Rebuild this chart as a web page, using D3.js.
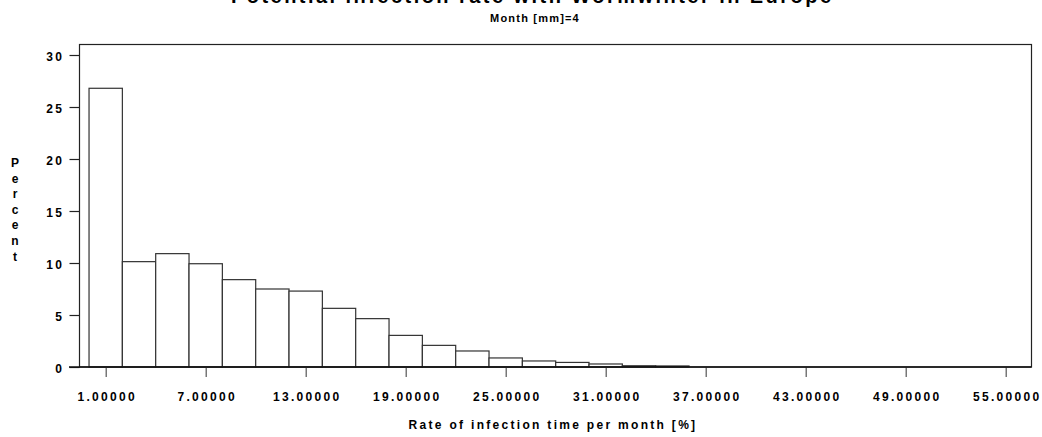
<!DOCTYPE html>
<html>
<head>
<meta charset="utf-8">
<script src="https://cdn.jsdelivr.net/npm/d3@7"></script>
<style>
  html, body { margin: 0; padding: 0; background: #fff; }
  svg { display: block; }
  .lbl { font-family: "Liberation Sans", Arial, sans-serif; font-weight: bold; font-size: 12px; fill: #000; }
</style>
</head>
<body>
<svg id="chart" width="1042" height="437"></svg>
<script>
const titleText = "Potential infection rate with Wormwinter in Europe";
const subtitleText = "Month [mm]=4";
const xLabel = "Rate of infection time per month [%]";
const yLabel = "Percent";
const binMidpoints = [1, 3, 5, 7, 9, 11, 13, 15, 17, 19, 21, 23, 25, 27, 29, 31, 33, 35];
const percentValues = [26.8, 10.13, 10.9, 9.93, 8.4, 7.5, 7.3, 5.64, 4.65, 3.04, 2.08, 1.54, 0.87, 0.58, 0.44, 0.29, 0.12, 0.1];
const binWidth = 2;
const xTickValues = [1, 7, 13, 19, 25, 31, 37, 43, 49, 55];
const xTickLabels = ["1.00000", "7.00000", "13.00000", "19.00000", "25.00000", "31.00000", "37.00000", "43.00000", "49.00000", "55.00000"];
const yTickValues = [0, 5, 10, 15, 20, 25, 30];

const svg = d3.select("#chart");
const frame = { left: 79.5, right: 1031.5, top: 44.5, bottom: 367 };

const x = d3.scaleLinear().domain([1, 55]).range([105.7, 1005.7]);
const y = d3.scaleLinear().domain([0, 30]).range([367, 55]);

// Title (partially clipped at top, as in the reference)
svg.append("text")
  .attr("x", 531).attr("y", 3)
  .attr("text-anchor", "middle")
  .attr("textLength", 600)
  .style("font-family", "'Liberation Sans', Arial, sans-serif")
  .style("font-weight", "bold")
  .style("font-size", "20px")
  .style("fill", "#000")
  .text(titleText);

svg.append("text")
  .attr("class", "lbl")
  .attr("x", 535).attr("y", 22)
  .attr("text-anchor", "middle")
  .style("font-size", "11px")
  .style("letter-spacing", "1.2px")
  .text(subtitleText);

// Bars
svg.append("g")
  .selectAll("rect")
  .data(binMidpoints.map((m, i) => ({ m, v: percentValues[i] })))
  .join("rect")
  .attr("x", d => x(d.m - binWidth / 2))
  .attr("width", d => x(d.m + binWidth / 2) - x(d.m - binWidth / 2))
  .attr("y", d => y(d.v))
  .attr("height", d => y(0) - y(d.v))
  .attr("fill", "#fff")
  .attr("stroke", "#333")
  .attr("stroke-width", 1.2);

// Frame
svg.append("rect")
  .attr("x", frame.left).attr("y", frame.top)
  .attr("width", frame.right - frame.left)
  .attr("height", frame.bottom - frame.top)
  .attr("fill", "none")
  .attr("stroke", "#222")
  .attr("stroke-width", 1.2);

// Y axis
const yAxis = svg.append("g")
  .attr("transform", `translate(${frame.left},0)`)
  .call(d3.axisLeft(y).tickValues(yTickValues).tickSize(10).tickPadding(7).tickFormat(d3.format("d")));
yAxis.select(".domain").remove();
yAxis.selectAll(".tick line").attr("stroke", "#222").attr("stroke-width", 1.2);
yAxis.selectAll(".tick text").attr("class", "lbl").style("letter-spacing", "2.5px").attr("dx", "2px").attr("dy", "0.45em");

// X axis
const xAxis = svg.append("g")
  .attr("transform", `translate(0,${frame.bottom})`)
  .call(d3.axisBottom(x).tickValues(xTickValues).tickSize(10).tickPadding(15)
    .tickFormat((d, i) => xTickLabels[i]));
xAxis.select(".domain").remove();
xAxis.selectAll(".tick line").attr("stroke", "#555").attr("stroke-width", 1.2);
xAxis.selectAll(".tick text").attr("class", "lbl").style("letter-spacing", "2.3px").attr("dx", "1px");

// Baseline extending to the left
svg.append("line")
  .attr("x1", 69).attr("x2", frame.right)
  .attr("y1", frame.bottom).attr("y2", frame.bottom)
  .attr("stroke", "#111").attr("stroke-width", 1.4);

// X label
svg.append("text")
  .attr("class", "lbl")
  .attr("x", 553).attr("y", 429)
  .attr("text-anchor", "middle")
  .style("letter-spacing", "2.3px")
  .text(xLabel);

// Y label: stacked letters
svg.append("g")
  .selectAll("text")
  .data(yLabel.split(""))
  .join("text")
  .attr("class", "lbl")
  .attr("x", 15)
  .attr("y", (d, i) => 167 + i * 15.6)
  .attr("text-anchor", "middle")
  .text(d => d);
</script>
</body>
</html>
